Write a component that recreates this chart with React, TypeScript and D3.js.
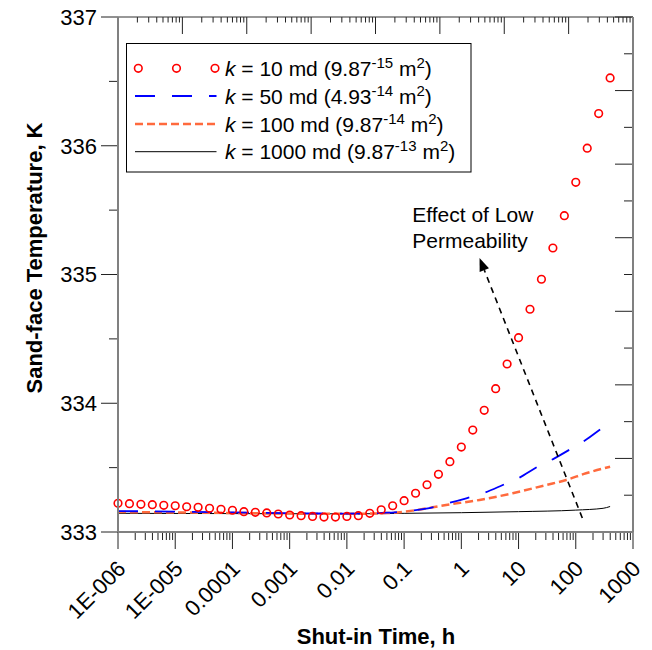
import React from 'react';
import * as d3 from 'd3';

// ---------- data ----------
const xTickValues = [1e-6, 1e-5, 1e-4, 1e-3, 1e-2, 0.1, 1, 10, 100, 1000];
const xTickLabels = ['1E-006', '1E-005', '0.0001', '0.001', '0.01', '0.1', '1', '10', '100', '1000'];
const yTickValues = [333, 334, 335, 336, 337];
const yTickLabels = ['333', '334', '335', '336', '337'];

// k = 10 md (markers)
const timeK10 = [
  1e-6, 1.585e-6, 2.512e-6, 3.981e-6, 6.31e-6,
  1e-5, 1.585e-5, 2.512e-5, 3.981e-5, 6.31e-5,
  1e-4, 1.585e-4, 2.512e-4, 3.981e-4, 6.31e-4,
  1e-3, 1.585e-3, 2.512e-3, 3.981e-3, 6.31e-3,
  1e-2, 1.585e-2, 2.512e-2, 3.981e-2, 6.31e-2,
  0.1, 0.1585, 0.2512, 0.3981, 0.631,
  1, 1.585, 2.512, 3.981, 6.31,
  10, 15.85, 25.12, 39.81, 63.1,
  100, 158.5, 251.2, 398.1,
];
const tempK10 = [
  333.223, 333.220, 333.215, 333.212, 333.207,
  333.204, 333.196, 333.192, 333.184, 333.176,
  333.169, 333.158, 333.153, 333.148, 333.140,
  333.132, 333.127, 333.121, 333.116, 333.116,
  333.121, 333.127, 333.145, 333.172, 333.204,
  333.243, 333.301, 333.367, 333.448, 333.546,
  333.660, 333.792, 333.945, 334.113, 334.305,
  334.509, 334.730, 334.963, 335.206, 335.457,
  335.716, 335.981, 336.250, 336.527,
];

// k = 50 md (long dash)
const timeK50 = [1e-6, 1e-5, 1e-4, 1e-3, 1e-2, 0.05, 0.1, 0.26, 0.58, 1.22, 2.54, 5.3, 10.4, 20.8, 42.4, 79.6, 155, 303, 398];
const tempK50 = [333.163, 333.158, 333.152, 333.146, 333.143, 333.150, 333.160, 333.184, 333.223, 333.262, 333.305, 333.365, 333.422, 333.503, 333.572, 333.642, 333.720, 333.813, 333.844];

// k = 100 md (short dash)
const timeK100 = [1e-6, 1e-4, 1e-3, 1e-2, 0.05, 0.14, 0.54, 2.08, 7.9, 30.3, 67.8, 151, 398];
const tempK100 = [333.155, 333.148, 333.143, 333.141, 333.147, 333.166, 333.210, 333.249, 333.301, 333.365, 333.404, 333.456, 333.507];

// k = 1000 md (solid)
const timeK1000 = [1e-6, 1e-3, 1e-2, 0.1, 1, 10, 100, 300, 398];
const tempK1000 = [333.145, 333.142, 333.141, 333.145, 333.150, 333.158, 333.170, 333.184, 333.198];

// annotation (data coordinates)
const arrowFrom = { t: 130, T: 333.109 };
const arrowTo = { t: 2.08, T: 335.128 };
const noteAt = { t: 0.139, T: 335.404 };
const noteLines = ['Effect of Low', 'Permeability'];

const legendItems = [
  { kind: 'circle', k: '10', coef: '9.87', exp: '-15' },
  { kind: 'blue', k: '50', coef: '4.93', exp: '-14' },
  { kind: 'orange', k: '100', coef: '9.87', exp: '-14' },
  { kind: 'black', k: '1000', coef: '9.87', exp: '-13' },
];

// ---------- layout ----------
const W = 652, H = 650;
const L = 118, R = 633, T0 = 17, B = 532;
const FONT = "Arial, 'Liberation Sans', sans-serif";

export default function App() {
  const x = d3.scaleLog().domain([1e-6, 1000]).range([L, R]);
  const y = d3.scaleLinear().domain([333, 337]).range([B, T0]);
  const xTop = d3.scaleLog().domain([1, 1e8]).range([L, R]);
  const yRight = d3.scaleLinear().domain([0, 7]).range([B, T0]);

  const mk = (ts: number[], vs: number[]) => ts.map((t, i) => [t, vs[i]] as [number, number]);
  const line = d3.line<[number, number]>().x(d => x(d[0])).y(d => y(d[1])).curve(d3.curveMonotoneX);

  // minor ticks
  const minorBottom: number[] = [];
  for (let e = -6; e < 3; e++) for (let m = 2; m <= 9; m++) minorBottom.push(m * Math.pow(10, e));
  const majorTop: number[] = [];
  const minorTop: number[] = [];
  for (let e = 0; e <= 8; e++) majorTop.push(Math.pow(10, e));
  for (let e = 0; e < 8; e++) for (let m = 2; m <= 9; m++) minorTop.push(m * Math.pow(10, e));
  const yMinor = [333.5, 334.5, 335.5, 336.5];
  const rightTicks = d3.range(0, 7.01, 0.5);

  const ax = x(arrowFrom.t), ay = y(arrowFrom.T), bx = x(arrowTo.t), by = y(arrowTo.T);
  const ang = Math.atan2(by - ay, bx - ax);
  const headLen = 13, headW = 5;
  const hx = bx - headLen * Math.cos(ang), hy = by - headLen * Math.sin(ang);
  const head = [
    [bx, by],
    [hx + headW * Math.sin(ang), hy - headW * Math.cos(ang)],
    [hx - headW * Math.sin(ang), hy + headW * Math.cos(ang)],
  ];

  const legX = 126.5, legY = 43.5, legW = 344.5, legH = 128.5;
  const rowY = [68.3, 96, 124, 151.7];

  return (
    <svg width={W} height={H} style={{ position: 'absolute', left: 0, top: 0, background: '#fff' }} fontFamily={FONT}>
      <rect x={0} y={0} width={W} height={H} fill="#fff" />

      {/* series */}
      <path d={line(mk(timeK1000, tempK1000)) || ''} fill="none" stroke="#000" strokeWidth={1} />
      <path d={line(mk(timeK100, tempK100)) || ''} fill="none" stroke="#ff6a3d" strokeWidth={2.5} strokeDasharray="8,4" />
      <path d={line(mk(timeK50, tempK50)) || ''} fill="none" stroke="#0000ff" strokeWidth={1.8} strokeDasharray="20,17" />
      {mk(timeK10, tempK10).map((d, i) => (
        <circle key={i} cx={x(d[0])} cy={y(d[1])} r={3.8} fill="none" stroke="#ff0000" strokeWidth={1.6} />
      ))}

      {/* annotation */}
      <line x1={ax} y1={ay} x2={hx} y2={hy} stroke="#000" strokeWidth={1.6} strokeDasharray="6,5" />
      <polygon points={head.map(p => p.join(',')).join(' ')} fill="#000" />
      {noteLines.map((s, i) => (
        <text key={i} x={x(noteAt.t)} y={y(noteAt.T) + i * 25.5} fontSize={21} fill="#000">{s}</text>
      ))}

      {/* legend */}
      <rect x={legX} y={legY} width={legW} height={legH} fill="#fff" stroke="#000" strokeWidth={1} />
      {legendItems.map((it, i) => {
        const cy = rowY[i];
        let sym;
        if (it.kind === 'circle') {
          sym = [138.3, 176.5, 215].map((cx, j) => (
            <circle key={j} cx={cx} cy={cy} r={3.8} fill="none" stroke="#ff0000" strokeWidth={1.6} />
          ));
        } else if (it.kind === 'blue') {
          sym = <line x1={135} x2={216.5} y1={cy} y2={cy} stroke="#0000ff" strokeWidth={1.8} strokeDasharray="20,17" />;
        } else if (it.kind === 'orange') {
          sym = <line x1={135} x2={216.5} y1={cy} y2={cy} stroke="#ff6a3d" strokeWidth={2.5} strokeDasharray="8,4" />;
        } else {
          sym = <line x1={135} x2={216.5} y1={cy} y2={cy} stroke="#000" strokeWidth={1} />;
        }
        return (
          <g key={i}>
            {sym}
            <text x={225} y={cy + 7.5} fontSize={21} fill="#000">
              <tspan fontStyle="italic">k</tspan>
              <tspan>{` = ${it.k} md (${it.coef}`}</tspan>
              <tspan fontSize={15} dy={-8}>{it.exp}</tspan>
              <tspan dy={8}>{' m'}</tspan>
              <tspan fontSize={15} dy={-8}>2</tspan>
              <tspan dy={8}>)</tspan>
            </text>
          </g>
        );
      })}

      {/* top axis ticks (inward) */}
      {minorTop.map((v, i) => <line key={'tm' + i} x1={xTop(v)} x2={xTop(v)} y1={T0} y2={T0 + 5.5} stroke="#222" strokeWidth={1} />)}
      {majorTop.map((v, i) => <line key={'tM' + i} x1={xTop(v)} x2={xTop(v)} y1={T0} y2={T0 + 17} stroke="#222" strokeWidth={1} />)}

      {/* right axis ticks (inward) */}
      {rightTicks.map((v, i) => {
        const major = Math.abs(v - Math.round(v)) < 1e-6;
        return <line key={'r' + i} x1={R} x2={R - (major ? 18 : 9)} y1={yRight(v)} y2={yRight(v)} stroke="#222" strokeWidth={1} />;
      })}

      {/* bottom axis ticks (outward) */}
      {minorBottom.map((v, i) => <line key={'bm' + i} x1={x(v)} x2={x(v)} y1={B} y2={B + 8} stroke="#222" strokeWidth={1} />)}
      {xTickValues.map((v, i) => <line key={'bM' + i} x1={x(v)} x2={x(v)} y1={B} y2={B + 17} stroke="#222" strokeWidth={1} />)}

      {/* left axis ticks (outward) */}
      {yMinor.map((v, i) => <line key={'lm' + i} x1={L - 9} x2={L} y1={y(v)} y2={y(v)} stroke="#222" strokeWidth={1} />)}
      {yTickValues.map((v, i) => <line key={'lM' + i} x1={L - 17} x2={L} y1={y(v)} y2={y(v)} stroke="#222" strokeWidth={1} />)}

      {/* spines */}
      <line x1={L} x2={R} y1={B} y2={B} stroke="#808080" strokeWidth={2} />
      <line x1={L} x2={R} y1={T0} y2={T0} stroke="#333" strokeWidth={1.2} />
      <line x1={L} x2={L} y1={T0} y2={B} stroke="#808080" strokeWidth={2} />
      <line x1={R} x2={R} y1={T0} y2={B} stroke="#808080" strokeWidth={2} />

      {/* tick labels */}
      {yTickValues.map((v, i) => (
        <text key={'yl' + i} x={97} y={y(v)} dy="0.36em" textAnchor="end" fontSize={22} fill="#000">{yTickLabels[i]}</text>
      ))}
      {xTickValues.map((v, i) => (
        <text key={'xl' + i} transform={`translate(${x(v) + 9},570) rotate(-45)`} textAnchor="end" fontSize={22} fill="#000">{xTickLabels[i]}</text>
      ))}

      {/* axis titles */}
      <text x={376} y={644} textAnchor="middle" fontSize={22} fontWeight="bold" fill="#000">Shut-in Time, h</text>
      <text transform={`translate(42,258) rotate(-90)`} textAnchor="middle" fontSize={22} fontWeight="bold" fill="#000">Sand-face Temperature, K</text>
    </svg>
  );
}
